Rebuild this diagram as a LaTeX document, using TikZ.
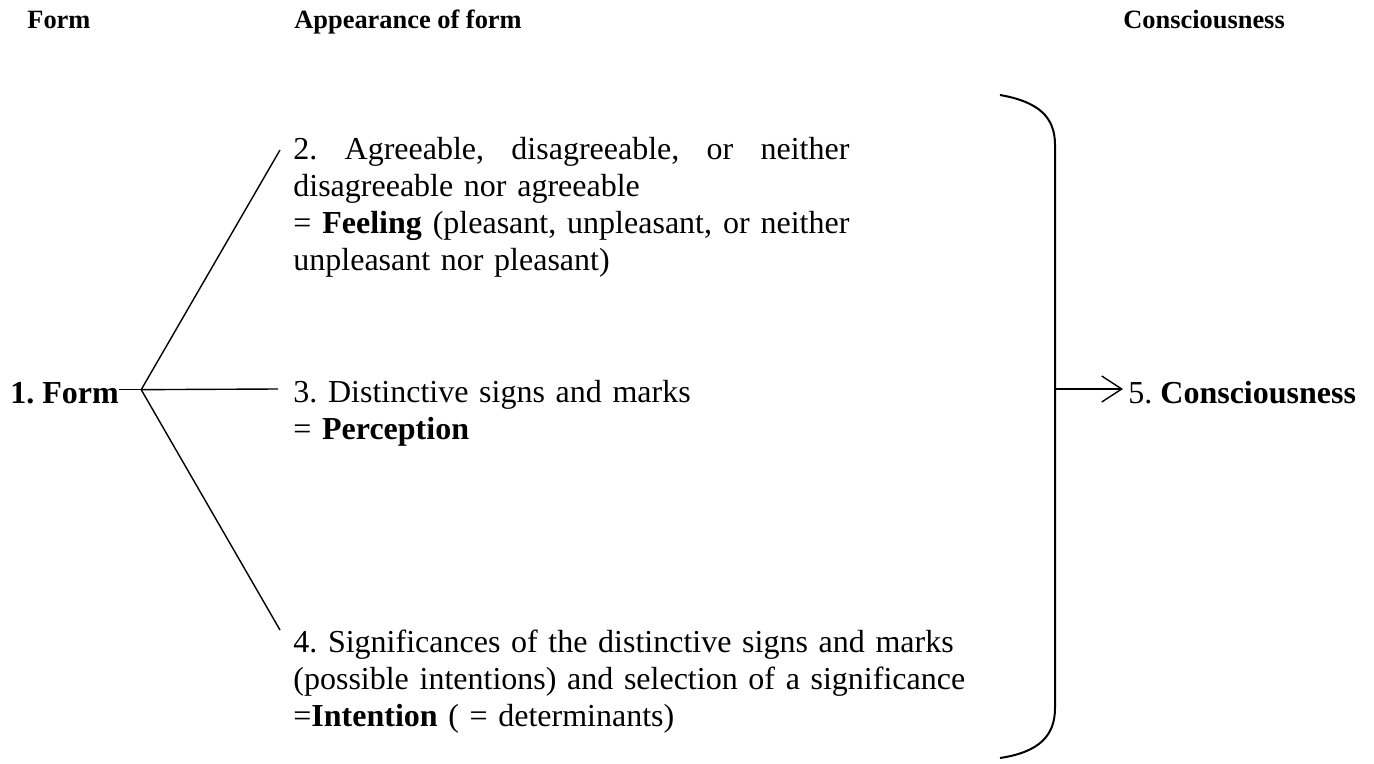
\documentclass[tikz,border=0pt]{standalone}
\usepackage{fontspec}
\setmainfont{Liberation Serif}
\usetikzlibrary{positioning,arrows.meta}
\frenchspacing

\newcommand{\bodyfont}{\fontsize{16}{18.5}\selectfont}
\newcommand{\headfont}{\fontsize{13.2}{15}\selectfont\bfseries}
% a full, justified line (ragged nodes freeze the spaces, so unfreeze them)
\newcommand{\jline}[1]{{\spaceskip=0pt\xspaceskip=0pt\makebox[278pt][s]{#1}}}

\tikzset{
  txt/.style={inner sep=0pt, font=\bodyfont, align=left, anchor=base west},
  header/.style={inner sep=0pt, font=\headfont, anchor=base west},
  branch/.style={line width=0.7pt},
  bracket/.style={line width=1pt, line join=round},
  into/.style={line width=0.7pt, -{Straight Barb[length=10pt,width=13pt,line width=0.7pt]}},
}

\begin{document}
\begin{tikzpicture}[x=0.5pt, y=-0.5pt, node distance=11pt]
  \useasboundingbox (0,0) rectangle (1374,764);
  % headings
  \node [header] (hform) at (27,29) {Form};
  \node [header] (happ) at (294,29) {Appearance of form};
  \node [header] (hcons) at (1123,29) {Consciousness};

  % form and its three appearances
  \node [txt, font=\bodyfont\bfseries] (form) at (10,403) {1. Form};
  \coordinate [right=of form, yshift=1.5pt] (fork);

  \node [txt, text width=278pt] (feel) at (293,160) {\jline{2. Agreeable, disagreeable, or neither}\\
    disagreeable nor agreeable\\
    \jline{= \textbf{Feeling} (pleasant, unpleasant, or neither}\\
    unpleasant nor pleasant)};
  \node [txt, text width=300pt] (perc) at (293,402) {3. Distinctive signs and marks\\
    = \textbf{Perception}};
  \node [txt, text width=340pt] (intent) at (293,652) {4. Significances of the distinctive signs and marks\\
    (possible intentions) and selection of a significance\\
    =\textbf{Intention} ( = determinants)};

  \draw [branch] (form.east |- fork) -- (fork);
  \draw [branch] (fork) -- ([shift={(-6.5pt,5pt)}]feel.base west);
  \draw [branch] (fork) -- ([shift={(-7.5pt,6.5pt)}]perc.base west);
  \draw [branch] (fork) -- ([shift={(-6.5pt,11pt)}]intent.base west);

  % bracket into consciousness
  \coordinate (brtop) at (1000,95);
  \coordinate (brbot) at (1000,758);
  \coordinate (brmid) at (1055,389);
  \draw [bracket] (brtop) .. controls (1040,102) and (1055,118) .. (1055,145)
    -- (1055,708) .. controls (1055,735) and (1040,752) .. (brbot);
  \node [txt] (cons) at (1128,403) {5. \textbf{Consciousness}};
  \draw [into] (brmid) -- ([shift={(-2.5pt,7pt)}]cons.base west);
\end{tikzpicture}
\end{document}
